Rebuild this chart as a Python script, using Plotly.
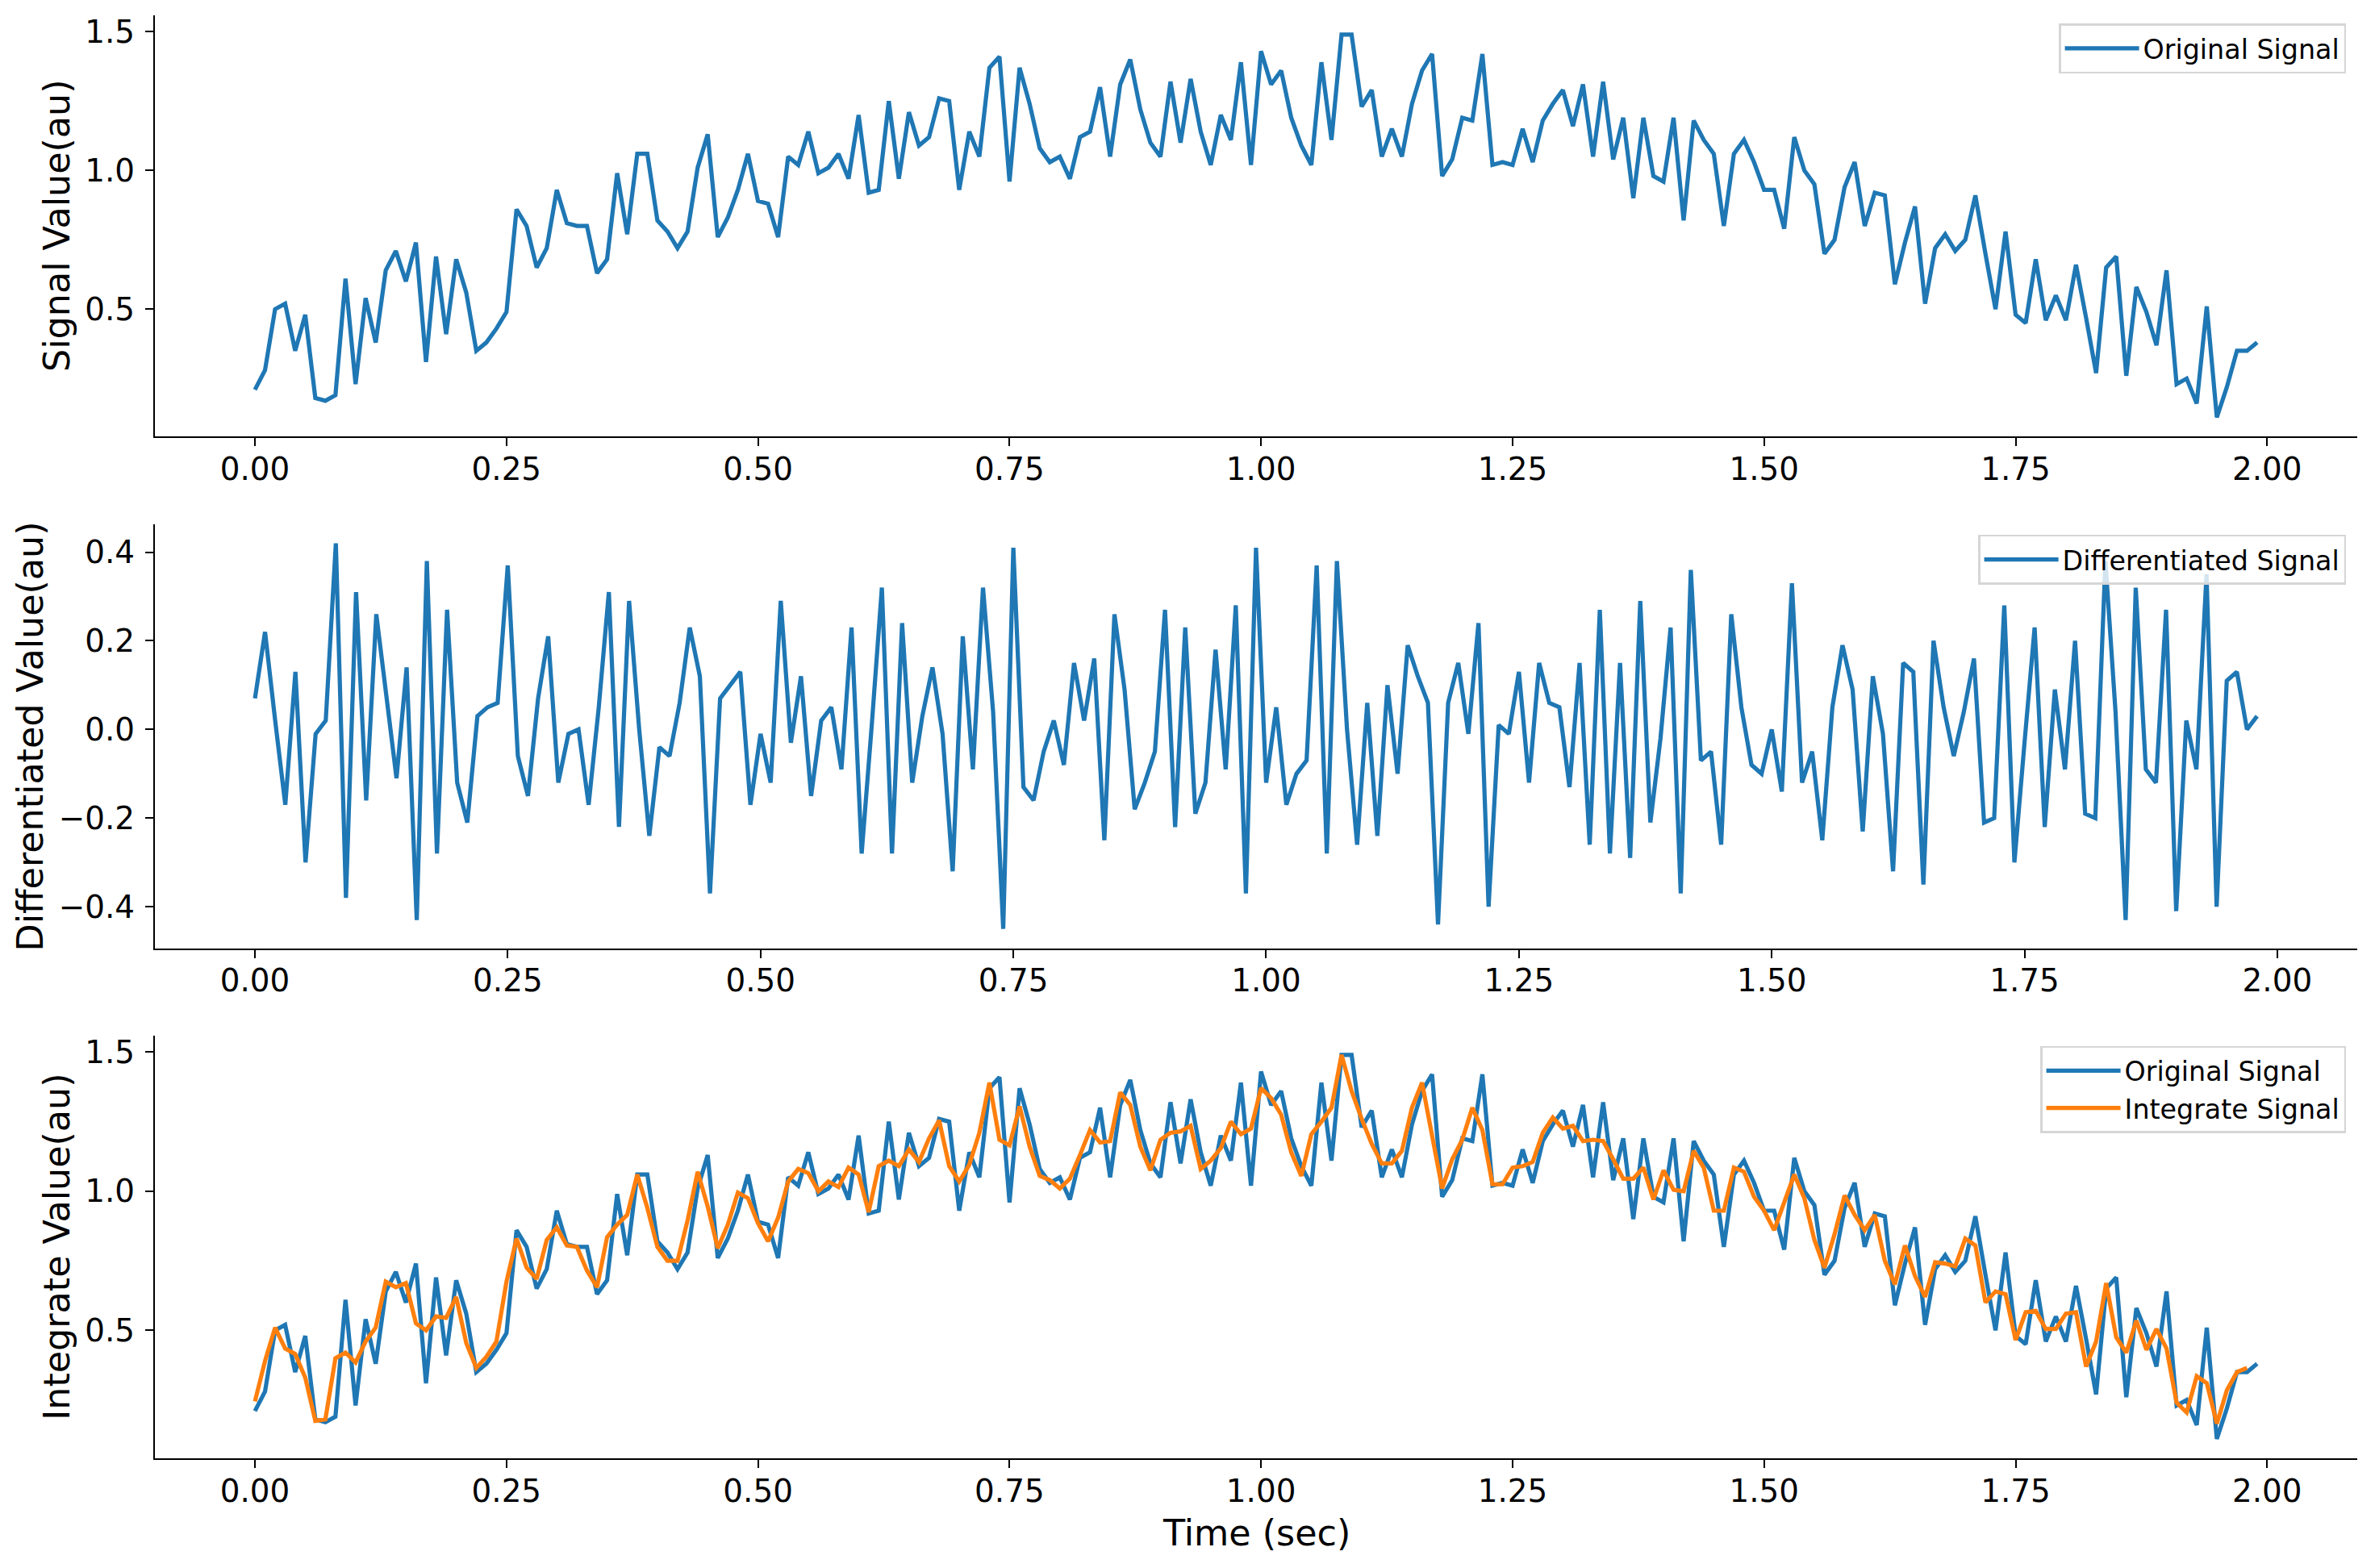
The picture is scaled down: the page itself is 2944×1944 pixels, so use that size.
import numpy as np
import plotly.graph_objects as go

# ---------------- data ----------------
signal_values = [
    0.21, 0.28, 0.50, 0.52, 0.35, 0.48, 0.18, 0.17, 0.19, 0.61,
    0.23, 0.54, 0.38, 0.64, 0.71, 0.60, 0.74, 0.31, 0.69, 0.41,
    0.68, 0.56, 0.35, 0.38, 0.43, 0.49, 0.86, 0.80, 0.65, 0.72,
    0.93, 0.81, 0.80, 0.80, 0.63, 0.68, 0.99, 0.77, 1.06, 1.06,
    0.82, 0.78, 0.72, 0.78, 1.01, 1.13, 0.76, 0.83, 0.93, 1.06,
    0.89, 0.88, 0.76, 1.05, 1.02, 1.14, 0.99, 1.01, 1.06, 0.97,
    1.20, 0.92, 0.93, 1.25, 0.97, 1.21, 1.09, 1.12, 1.26, 1.25,
    0.93, 1.14, 1.05, 1.37, 1.41, 0.96, 1.37, 1.24, 1.08, 1.03,
    1.05, 0.97, 1.12, 1.14, 1.30, 1.05, 1.31, 1.40, 1.22, 1.10,
    1.05, 1.32, 1.10, 1.33, 1.14, 1.02, 1.20, 1.11, 1.39, 1.02,
    1.43, 1.31, 1.36, 1.19, 1.09, 1.02, 1.39, 1.11, 1.49, 1.49,
    1.23, 1.29, 1.05, 1.15, 1.05, 1.24, 1.36, 1.42, 0.98, 1.04,
    1.19, 1.18, 1.42, 1.02, 1.03, 1.02, 1.15, 1.03, 1.18, 1.24,
    1.29, 1.16, 1.31, 1.05, 1.32, 1.04, 1.19, 0.90, 1.19, 0.98,
    0.96, 1.19, 0.82, 1.18, 1.11, 1.06, 0.80, 1.06, 1.11, 1.03,
    0.93, 0.93, 0.79, 1.12, 1.00, 0.95, 0.70, 0.75, 0.94, 1.03,
    0.80, 0.92, 0.91, 0.59, 0.74, 0.87, 0.52, 0.72, 0.77, 0.71,
    0.75, 0.91, 0.70, 0.50, 0.78, 0.48, 0.45, 0.68, 0.46, 0.55,
    0.46, 0.66, 0.47, 0.27, 0.65, 0.69, 0.26, 0.58, 0.49, 0.37,
    0.64, 0.23, 0.25, 0.16, 0.51, 0.11, 0.22, 0.35, 0.35, 0.38,
]

diff_values = [
    0.07, 0.22, 0.02, -0.17, 0.13, -0.30, -0.01, 0.02, 0.42, -0.38,
    0.31, -0.16, 0.26, 0.07, -0.11, 0.14, -0.43, 0.38, -0.28, 0.27,
    -0.12, -0.21, 0.03, 0.05, 0.06, 0.37, -0.06, -0.15, 0.07, 0.21,
    -0.12, -0.01, 0.00, -0.17, 0.05, 0.31, -0.22, 0.29, 0.00, -0.24,
    -0.04, -0.06, 0.06, 0.23, 0.12, -0.37, 0.07, 0.10, 0.13, -0.17,
    -0.01, -0.12, 0.29, -0.03, 0.12, -0.15, 0.02, 0.05, -0.09, 0.23,
    -0.28, 0.01, 0.32, -0.28, 0.24, -0.12, 0.03, 0.14, -0.01, -0.32,
    0.21, -0.09, 0.32, 0.04, -0.45, 0.41, -0.13, -0.16, -0.05, 0.02,
    -0.08, 0.15, 0.02, 0.16, -0.25, 0.26, 0.09, -0.18, -0.12, -0.05,
    0.27, -0.22, 0.23, -0.19, -0.12, 0.18, -0.09, 0.28, -0.37, 0.41,
    -0.12, 0.05, -0.17, -0.10, -0.07, 0.37, -0.28, 0.38, 0.00, -0.26,
    0.06, -0.24, 0.10, -0.10, 0.19, 0.12, 0.06, -0.44, 0.06, 0.15,
    -0.01, 0.24, -0.40, 0.01, -0.01, 0.13, -0.12, 0.15, 0.06, 0.05,
    -0.13, 0.15, -0.26, 0.27, -0.28, 0.15, -0.29, 0.29, -0.21, -0.02,
    0.23, -0.37, 0.36, -0.07, -0.05, -0.26, 0.26, 0.05, -0.08, -0.10,
    0.00, -0.14, 0.33, -0.12, -0.05, -0.25, 0.05, 0.19, 0.09, -0.23,
    0.12, -0.01, -0.32, 0.15, 0.13, -0.35, 0.20, 0.05, -0.06, 0.04,
    0.16, -0.21, -0.20, 0.28, -0.30, -0.03, 0.23, -0.22, 0.09, -0.09,
    0.20, -0.19, -0.20, 0.38, 0.04, -0.43, 0.32, -0.09, -0.12, 0.27,
    -0.41, 0.02, -0.09, 0.35, -0.40, 0.11, 0.13, 0.00, 0.03,
]

integrate_values = [
    0.245, 0.39, 0.51, 0.435, 0.415, 0.33, 0.175, 0.18, 0.40, 0.42,
    0.385, 0.46, 0.51, 0.675, 0.655, 0.67, 0.525, 0.50, 0.55, 0.545,
    0.62, 0.455, 0.365, 0.405, 0.46, 0.675, 0.83, 0.725, 0.685, 0.825,
    0.87, 0.805, 0.80, 0.715, 0.655, 0.835, 0.88, 0.915, 1.06, 0.94,
    0.80, 0.75, 0.75, 0.895, 1.07, 0.945, 0.795, 0.88, 0.995, 0.975,
    0.885, 0.82, 0.905, 1.035, 1.08, 1.065, 1.00, 1.035, 1.015, 1.085,
    1.06, 0.925, 1.09, 1.11, 1.09, 1.15, 1.105, 1.19, 1.255, 1.09,
    1.035, 1.095, 1.21, 1.39, 1.185, 1.165, 1.305, 1.16, 1.055, 1.04,
    1.01, 1.045, 1.13, 1.22, 1.175, 1.18, 1.355, 1.31, 1.16, 1.075,
    1.185, 1.21, 1.215, 1.235, 1.08, 1.11, 1.155, 1.25, 1.205, 1.225,
    1.37, 1.335, 1.275, 1.14, 1.055, 1.205, 1.25, 1.30, 1.49, 1.36,
    1.26, 1.17, 1.10, 1.10, 1.145, 1.30, 1.39, 1.20, 1.01, 1.115,
    1.185, 1.30, 1.22, 1.025, 1.025, 1.085, 1.09, 1.105, 1.21, 1.265,
    1.225, 1.235, 1.18, 1.185, 1.18, 1.115, 1.045, 1.045, 1.085, 0.97,
    1.075, 1.005, 1.00, 1.145, 1.085, 0.93, 0.93, 1.085, 1.07, 0.98,
    0.93, 0.86, 0.955, 1.06, 0.975, 0.825, 0.725, 0.845, 0.985, 0.915,
    0.86, 0.915, 0.75, 0.665, 0.805, 0.695, 0.62, 0.745, 0.74, 0.73,
    0.83, 0.805, 0.60, 0.64, 0.63, 0.465, 0.565, 0.57, 0.505, 0.505,
    0.56, 0.565, 0.37, 0.46, 0.67, 0.475, 0.42, 0.535, 0.43, 0.505,
    0.435, 0.24, 0.205, 0.335, 0.31, 0.165, 0.285, 0.35, 0.365,
]

sample_step = 0.01  # seconds between samples
time_sec = np.round(np.arange(len(signal_values)) * sample_step, 2)
time_diff = time_sec[:len(diff_values)]
time_int = time_sec[:len(integrate_values)]

x_tick_vals = [0.0, 0.25, 0.5, 0.75, 1.0, 1.25, 1.5, 1.75, 2.0]
x_tick_text = ["0.00", "0.25", "0.50", "0.75", "1.00", "1.25", "1.50", "1.75", "2.00"]

# ---------------- styling ----------------
BLUE = "#1f77b4"
ORANGE = "#ff7f0e"
FONT = "DejaVu Sans"
W, H = 2944, 1944
LW = 5.2

x_dom = [0.0652, 0.9925]
top_dom = [0.7216, 0.9902]
mid_dom = [0.3953, 0.6658]
bot_dom = [0.0701, 0.3395]

tickfont = dict(family=FONT, size=38.9, color="black")


def xaxis_style(rng, anchor):
    return dict(domain=x_dom, range=rng, anchor=anchor, showline=True, linecolor="black",
                linewidth=2.2, ticks="outside", ticklen=10, tickwidth=2.2, tickcolor="black",
                showgrid=False, zeroline=False, tickvals=x_tick_vals, ticktext=x_tick_text,
                tickfont=tickfont, automargin=False, ticklabelstandoff=-5)


def yaxis_style(dom, rng, anchor, dtick):
    return dict(domain=dom, range=rng, anchor=anchor, showline=True, linecolor="black",
                linewidth=2.2, ticks="outside", ticklen=10, tickwidth=2.2, tickcolor="black",
                showgrid=False, zeroline=False, tick0=0, dtick=dtick, tickformat=".1f",
                tickfont=tickfont, automargin=False, ticklabelstandoff=5)


fig = go.Figure()
fig.add_trace(go.Scatter(x=time_sec, y=signal_values, mode="lines", name="Original Signal",
                         line=dict(color=BLUE, width=LW), xaxis="x", yaxis="y", legend="legend"))
fig.add_trace(go.Scatter(x=time_diff, y=diff_values, mode="lines", name="Differentiated Signal",
                         line=dict(color=BLUE, width=LW), xaxis="x2", yaxis="y2", legend="legend2"))
fig.add_trace(go.Scatter(x=time_sec, y=signal_values, mode="lines", name="Original Signal",
                         line=dict(color=BLUE, width=LW), xaxis="x3", yaxis="y3", legend="legend3"))
fig.add_trace(go.Scatter(x=time_int, y=integrate_values, mode="lines", name="Integrate Signal",
                         line=dict(color=ORANGE, width=LW), xaxis="x3", yaxis="y3", legend="legend3"))

legend_common = dict(xanchor="right", yanchor="top", bgcolor="rgba(255,255,255,0.8)",
                     bordercolor="#d6d6d6", borderwidth=2.5,
                     font=dict(family=FONT, size=33.3, color="black"), itemwidth=92,
                     tracegroupgap=0)

title_font = dict(family=FONT, size=44.4, color="black")

fig.update_layout(
    width=W, height=H, autosize=False,
    margin=dict(l=0, r=0, t=0, b=0),
    paper_bgcolor="white", plot_bgcolor="white",
    font=dict(family=FONT, color="black"),
    xaxis=xaxis_style([-0.0995, 2.0895], "y"),
    xaxis2=xaxis_style([-0.099, 2.079], "y2"),
    xaxis3=xaxis_style([-0.0995, 2.0895], "y3"),
    yaxis=yaxis_style(top_dom, [0.041, 1.559], "x", 0.5),
    yaxis2=yaxis_style(mid_dom, [-0.4935, 0.4635], "x2", 0.2),
    yaxis3=yaxis_style(bot_dom, [0.041, 1.559], "x3", 0.5),
    legend=dict(x=0.9878, y=0.9850, **legend_common),
    legend2=dict(x=0.9878, y=0.6590, **legend_common),
    legend3=dict(x=0.9878, y=0.3330, **legend_common),
    showlegend=True,
    annotations=[
        dict(text="Signal Value(au)", x=0.0241, y=0.856, xref="paper", yref="paper",
             textangle=-90, showarrow=False, xanchor="center", yanchor="middle", font=title_font),
        dict(text="Differentiated Value(au)", x=0.0129, y=0.5306, xref="paper", yref="paper",
             textangle=-90, showarrow=False, xanchor="center", yanchor="middle", font=title_font),
        dict(text="Integrate Value(au)", x=0.0241, y=0.2048, xref="paper", yref="paper",
             textangle=-90, showarrow=False, xanchor="center", yanchor="middle", font=title_font),
        dict(text="Time (sec)", x=0.5289, y=0.0226, xref="paper", yref="paper",
             showarrow=False, xanchor="center", yanchor="middle", font=title_font),
    ],
)

fig.write_html("out.html")
